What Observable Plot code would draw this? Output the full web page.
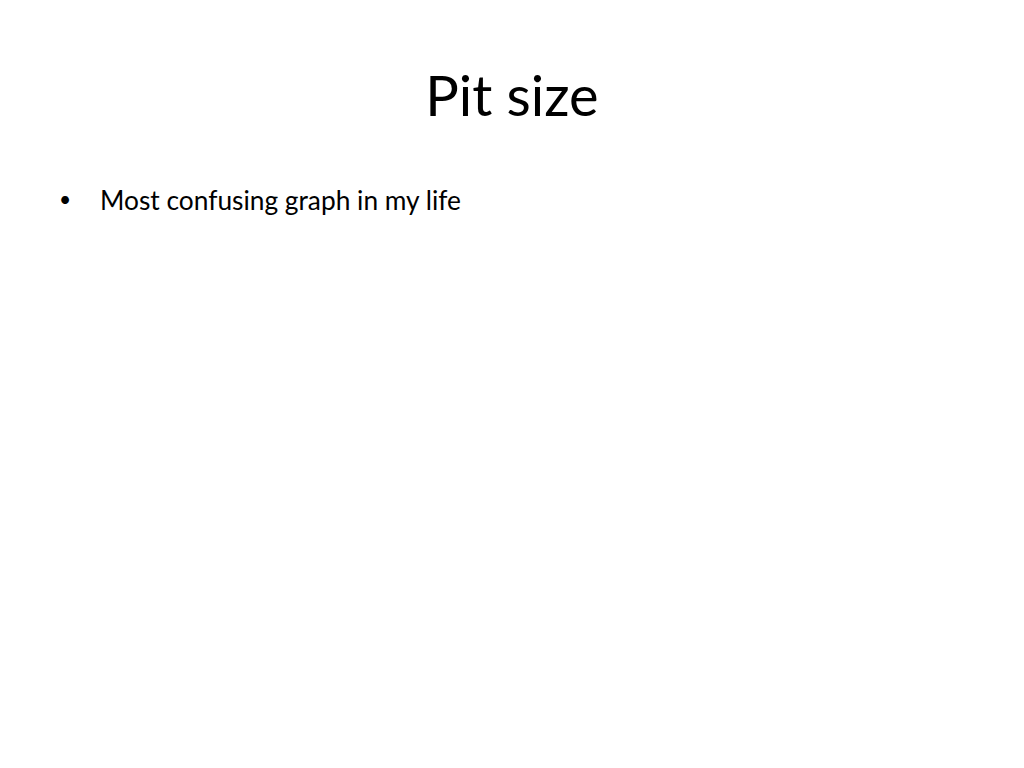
<!DOCTYPE html>
<html>
<head>
<meta charset="utf-8">
<script src="https://cdn.jsdelivr.net/npm/d3@7"></script>
<script src="https://cdn.jsdelivr.net/npm/@observablehq/plot@0.6"></script>
<style>
  html, body { margin: 0; padding: 0; background: #fff; width: 1024px; height: 768px; overflow: hidden; }
  body { font-family: Lato, "Open Sans", sans-serif; color: #000; position: relative; }
  #title { position: absolute; left: 0; width: 1024px; top: 67px; text-align: center; font-size: 56px; line-height: 1; margin: 0; font-weight: normal; }
  #bullets { position: absolute; left: 0; top: 185px; margin: 0; padding: 0; list-style: none; }
  #bullets li { position: relative; font-size: 26.3px; line-height: 1.2; padding-left: 100px; }
  #bullets li::before { content: "\2022"; position: absolute; left: 59px; top: 1px; font-size: 21px; }
  #chart { position: absolute; left: 0; top: 240px; }
</style>
</head>
<body>
<h1 id="title"></h1>
<ul id="bullets"></ul>
<div id="chart"></div>
<script>
const titleText = "Pit size";
const bulletItems = ["Most confusing graph in my life"];

document.getElementById("title").textContent = titleText;
const ul = document.getElementById("bullets");
for (const b of bulletItems) {
  const li = document.createElement("li");
  li.textContent = b;
  ul.appendChild(li);
}

// The slide contains no plotted data: an empty Observable Plot canvas fills the body area.
const plot = Plot.plot({
  width: 1024,
  height: 520,
  marks: []
});
document.getElementById("chart").appendChild(plot);
</script>
</body>
</html>
